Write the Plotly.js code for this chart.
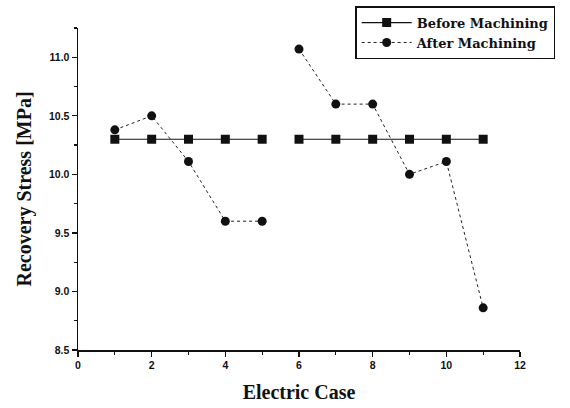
<!DOCTYPE html>
<html><head><meta charset="utf-8">
<script src="https://cdn.plot.ly/plotly-3.0.1.min.js"></script>
<style>html,body{margin:0;padding:0;background:#fff}#chart{width:570px;height:408px}</style>
</head><body><div id="chart"></div>
<script>
var cases = [1, 2, 3, 4, 5, null, 6, 7, 8, 9, 10, 11];
var beforeMachining = [10.3, 10.3, 10.3, 10.3, 10.3, null, 10.3, 10.3, 10.3, 10.3, 10.3, 10.3];
var afterMachining = [10.38, 10.5, 10.11, 9.6, 9.6, null, 11.07, 10.6, 10.6, 10.0, 10.11, 8.86];
var xTicks = [0, 2, 4, 6, 8, 10, 12];
var yTicks = [8.5, 9.0, 9.5, 10.0, 10.5, 11.0];

var traces = [
  {x: cases, y: beforeMachining, name: 'Before Machining', mode: 'lines+markers',
   connectgaps: false,
   line: {color: '#111', width: 1.2}, marker: {symbol: 'square', size: 9, color: '#111'}},
  {x: cases, y: afterMachining, name: 'After Machining', mode: 'lines+markers',
   connectgaps: false,
   line: {color: '#222', width: 1, dash: 'dot'}, marker: {symbol: 'circle', size: 9, color: '#111'}}
];
var tickFont = {family: 'Liberation Sans, Arial, sans-serif', size: 10.5, color: '#111', weight: 'bold'};
var titleFont = {family: 'Liberation Serif, Times New Roman, serif', size: 20, color: '#111', weight: 'bold'};
var layout = {
  width: 570, height: 408,
  margin: {l: 78, r: 50, t: 28, b: 58, autoexpand: false},
  paper_bgcolor: '#fff', plot_bgcolor: '#fff',
  showlegend: true,
  legend: {xref: 'container', yref: 'container', x: 0.974, xanchor: 'right', y: 0.985, yanchor: 'top',
    bordercolor: '#111', borderwidth: 1.5, bgcolor: '#fff',
    font: {family: 'DejaVu Serif, serif', size: 13, color: '#111', weight: 'bold'},
    tracegroupgap: 0, itemwidth: 50},
  xaxis: {range: [0, 12], tickvals: xTicks, ticks: 'outside', ticklen: 5, tickwidth: 1.2,
    tickcolor: '#111', showline: true, linecolor: '#111', linewidth: 1.5, showgrid: false, zeroline: false,
    minor: {dtick: 1, ticks: 'outside', ticklen: 3, tickcolor: '#111'},
    tickfont: tickFont,
    title: {text: 'Electric Case', standoff: 15, font: titleFont}},
  yaxis: {range: [8.5, 11.25], tickvals: yTicks, tickformat: '.1f', ticks: 'outside', ticklen: 5, tickwidth: 1.2,
    tickcolor: '#111', showline: true, linecolor: '#111', linewidth: 1.5, showgrid: false, zeroline: false,
    minor: {dtick: 0.25, ticks: 'outside', ticklen: 3, tickcolor: '#111'},
    tickfont: tickFont,
    title: {text: 'Recovery Stress [MPa]', standoff: 12, font: titleFont}}
};
Plotly.newPlot('chart', traces, layout, {displayModeBar: false, staticPlot: true});
</script></body></html>
